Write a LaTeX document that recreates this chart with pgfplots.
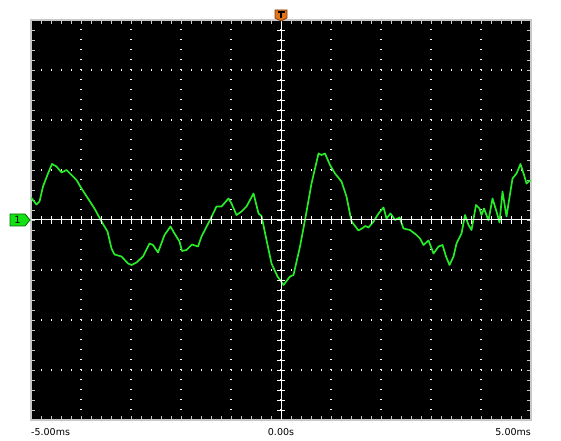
\documentclass[border=0pt]{standalone}
\usepackage{pgfplots}
\pgfplotsset{compat=1.18}
\usepackage{fontspec}
\setmainfont{DejaVu Sans}
\definecolor{trace}{RGB}{40,235,40}
\definecolor{frame}{RGB}{200,200,200}
\definecolor{trig}{RGB}{225,115,25}
\definecolor{trigdark}{RGB}{130,60,10}
\definecolor{chgreen}{RGB}{20,225,20}
\definecolor{chdark}{RGB}{0,110,0}

\begin{document}
\begin{tikzpicture}[x=1bp,y=1bp]
\fill[white] (0,0) rectangle (561,441);
\useasboundingbox (0,0) rectangle (561,441);
\begin{axis}[
    at={(31bp,21bp)}, anchor=south west,
    scale only axis, width=500bp, height=400bp,
    xmin=-5, xmax=5, ymin=-4, ymax=4,
    axis background/.style={fill=black},
    axis line style={frame, line width=1.5bp},
    xtick={-5,...,5}, ytick={-4,...,4},
    minor x tick num=4, minor y tick num=4,
    xticklabels={}, yticklabels={},
    tick align=inside, major tick length=4bp, minor tick length=4bp,
    tick style={frame, line width=0.8bp},
    grid=major,
    major grid style={white, line width=1.1bp, dash pattern=on 1.1bp off 8.9bp},
]
% channel 1, time in ms, amplitude in divisions
\addplot[trace, line width=1.7bp, line join=round] coordinates {
(-5.00,0.45) (-4.89,0.31) (-4.83,0.37) (-4.76,0.67) (-4.66,0.93) (-4.58,1.12)
(-4.49,1.07) (-4.39,0.95) (-4.29,1.00) (-4.19,0.90) (-4.09,0.80) (-3.99,0.63)
(-3.86,0.43) (-3.73,0.23) (-3.59,-0.03) (-3.47,-0.23) (-3.39,-0.57) (-3.33,-0.69)
(-3.19,-0.73) (-3.06,-0.87) (-2.99,-0.90) (-2.89,-0.85) (-2.76,-0.73) (-2.63,-0.47)
(-2.56,-0.50) (-2.46,-0.65) (-2.33,-0.30) (-2.21,-0.13) (-2.13,-0.27) (-2.03,-0.43)
(-1.98,-0.62) (-1.89,-0.60) (-1.78,-0.49) (-1.66,-0.53) (-1.59,-0.33) (-1.42,0.00)
(-1.29,0.27) (-1.19,0.27) (-1.05,0.43) (-0.99,0.33) (-0.89,0.10) (-0.79,0.17)
(-0.69,0.27) (-0.55,0.53) (-0.45,0.13) (-0.39,0.08) (-0.29,-0.40) (-0.19,-0.87)
(-0.07,-1.13) (0.05,-1.30) (0.18,-1.13) (0.25,-1.10) (0.38,-0.53) (0.48,0.00)
(0.61,0.73) (0.75,1.33) (0.81,1.30) (0.88,1.33) (0.98,1.10) (1.08,0.93)
(1.21,0.77) (1.31,0.47) (1.41,-0.03) (1.55,-0.21) (1.65,-0.15) (1.68,-0.12)
(1.75,-0.15) (1.85,-0.03) (1.95,0.13) (2.05,0.25) (2.11,0.03) (2.19,0.13)
(2.28,0.00) (2.37,0.05) (2.45,-0.17) (2.58,-0.20) (2.71,-0.30) (2.78,-0.37)
(2.85,-0.50) (2.95,-0.41) (3.05,-0.67) (3.15,-0.53) (3.23,-0.50) (3.30,-0.73)
(3.37,-0.90) (3.45,-0.73) (3.51,-0.47) (3.61,-0.27) (3.68,0.10) (3.75,-0.10)
(3.81,-0.20) (3.90,0.30) (3.97,0.23) (4.01,0.10) (4.06,0.23) (4.15,-0.01)
(4.23,0.43) (4.31,0.17) (4.37,-0.05) (4.43,0.57) (4.51,0.07) (4.55,0.33)
(4.63,0.83) (4.71,0.93) (4.79,1.12) (4.86,0.90) (4.91,0.73) (4.99,0.80)
};
\end{axis}
% centre axes with their small ticks
\draw[white, line width=1bp] (31,221) -- (531,221);
\draw[white, line width=1bp] (281,21) -- (281,421);
\foreach \k in {1,...,49} \draw[white, line width=0.9bp] (31+10*\k,217) -- (31+10*\k,225);
\foreach \k in {1,...,39} \draw[white, line width=0.9bp] (277,21+10*\k) -- (285,21+10*\k);
% time labels
\node[anchor=base west, inner sep=0pt, font=\fontsize{9.5bp}{11bp}\selectfont] at (31,5) {-5.00ms};
\node[anchor=base, inner sep=0pt, font=\fontsize{9.5bp}{11bp}\selectfont] at (281,5) {0.00s};
\node[anchor=base east, inner sep=0pt, font=\fontsize{9.5bp}{11bp}\selectfont] at (531,5) {5.00ms};
% channel 1 marker
\filldraw[fill=chgreen, draw=chdark, line width=0.8bp]
  (10,215) -- (25,215) -- (30,221) -- (25,227) -- (10,227) -- cycle;
\node[inner sep=0pt, font=\fontsize{10bp}{11bp}\selectfont] at (17.5,221) {1};
% trigger marker
\filldraw[fill=trig, draw=trigdark, line width=0.8bp]
  (275,431) -- (287,431) -- (287,423) -- (281,420) -- (275,423) -- cycle;
\fill[black] (277.5,428) rectangle (284.5,429.5);
\fill[black] (280.2,423) rectangle (281.8,428);
\end{tikzpicture}
\end{document}
